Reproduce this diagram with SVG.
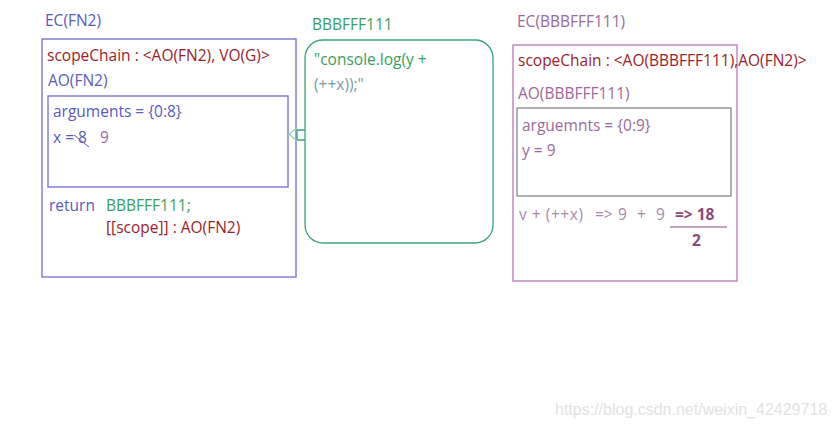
<svg xmlns="http://www.w3.org/2000/svg" width="835" height="427" viewBox="0 0 835 427">
<style>
text{font-family:"Open Sans","Noto Sans","Liberation Sans",sans-serif;font-size:15.5px}
.blue{fill:#5a5ac0}
.red{fill:#9b1c2a}
.green{fill:#3a9e5e}
.purple{fill:#9a6a9a}
.lp{fill:#a88aa8}
.dp{fill:#8a4a7a;font-weight:bold}
</style>
<rect width="835" height="427" fill="#fff"/>
<g id="ec-fn2">
<text x="45" y="26" class="blue">EC(FN2)</text>
<rect x="42" y="39" width="254" height="238" fill="none" stroke="#6e6ed0" stroke-width="1.3"/>
<text x="47" y="61" class="red">scopeChain : &lt;AO(FN2), VO(G)&gt;</text>
<text x="48" y="86" class="blue">AO(FN2)</text>
<rect x="48" y="96" width="240" height="91" fill="none" stroke="#6e6ed0" stroke-width="1.3"/>
<text x="53" y="117" class="blue">arguments = {0:8}</text>
<text x="53" y="143" class="blue">x = 8</text>
<line x1="74" y1="135" x2="89" y2="147" stroke="#5a5ac0" stroke-width="1"/>
<text x="100" y="143" class="purple">9</text>
<text x="49" y="211" class="blue">return</text>
<text x="106" y="211" class="green">BBBFFF111;</text>
<text x="106" y="233" class="red">[[scope]] : AO(FN2)</text>
</g>
<g id="fn-bbbfff111">
<text x="312" y="30" class="green">BBBFFF111</text>
<rect x="305" y="40" width="188" height="203" rx="18" fill="none" stroke="#3aa57a" stroke-width="1.3"/>
<text x="314" y="65" class="green">"console.log(y +</text>
<text x="314" y="90" fill="#7a9aa8">(++x));"</text>
</g>
<g id="ec-bbbfff111">
<text x="517" y="27" class="purple">EC(BBBFFF111)</text>
<rect x="513" y="45" width="224" height="236" fill="none" stroke="#b878b8" stroke-width="1.3"/>
<text x="518" y="66" class="red">scopeChain : &lt;AO(BBBFFF111),AO(FN2)&gt;</text>
<text x="518" y="99" class="purple">AO(BBBFFF111)</text>
<rect x="517" y="108" width="214" height="88" fill="none" stroke="#888" stroke-width="1.3"/>
<text x="522" y="131" class="purple">arguemnts = {0:9}</text>
<text x="522" y="156" class="purple">y = 9</text>
<g class="lp">
<text x="519" y="220" class="lp" textLength="64">v + (++x)</text>
<text x="595" y="220" class="lp">=&gt;</text>
<text x="618" y="220" class="lp">9</text>
<text x="637" y="220" class="lp">+</text>
<text x="656" y="220" class="lp">9</text>
</g>
<text x="675" y="220" class="dp">=&gt; 18</text>
<line x1="670" y1="227" x2="727" y2="227" stroke="#8a4a7a" stroke-width="1"/>
<text x="692" y="246" class="dp">2</text>
</g>
<g id="connectors" fill="none" stroke="#3aa57a" stroke-width="1.3">
<path d="M305,130 H297 V140 H305"/>
<polyline points="297,128 289,134 297,141" stroke="#9ad0b0"/>
</g>
<text x="555" y="415" fill="#e2e2e2" style="font-family:'Liberation Sans',sans-serif;font-size:16px">https://blog.csdn.net/weixin_42429718</text>
</svg>
